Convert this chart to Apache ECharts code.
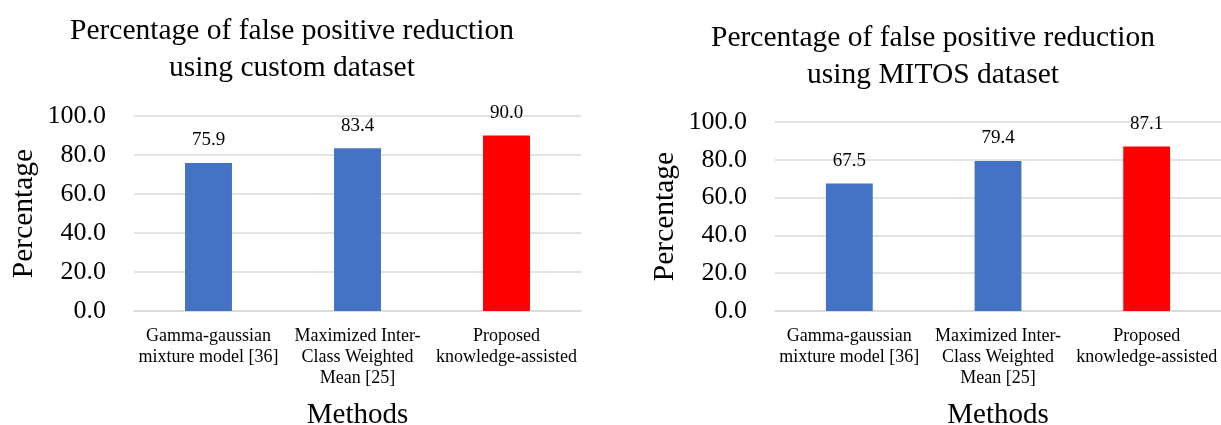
<!DOCTYPE html>
<html>
<head>
<meta charset="utf-8">
<script src="https://cdn.jsdelivr.net/npm/echarts@6/dist/echarts.min.js"></script>
<style>
html,body{margin:0;padding:0;background:#fff;}
#c{width:1221px;height:425px;}
</style>
</head>
<body>
<div id="c"></div>
<script>
var categories = ["Gamma-gaussian\nmixture model [36]", "Maximized Inter-\nClass Weighted\nMean [25]", "Proposed\nknowledge-assisted"];
var customValues = [75.9, 83.4, 90.0];
var mitosValues = [67.5, 79.4, 87.1];
var yTicks = [0, 20, 40, 60, 80, 100];
var titleCustom = "Percentage of false positive reduction\nusing custom dataset";
var titleMitos = "Percentage of false positive reduction\nusing MITOS dataset";
var xName = "Methods";
var yName = "Percentage";

var FONT = "Liberation Serif";
var BLUE = "#4472C4", RED = "#FF0000";
var barColors = [BLUE, BLUE, RED];

function mkData(vals){
  return vals.map(function(v,i){ return {value:v, itemStyle:{color:barColors[i]}}; });
}
function xAxis(gi){
  return {
    type:'category', gridIndex:gi, data:categories,
    name:xName, nameLocation:'middle', nameGap:90,
    nameTextStyle:{fontFamily:FONT, fontSize:29, color:'#000'},
    axisLine:{show:true, lineStyle:{color:'#d9d9d9', width:1.5}},
    axisTick:{show:false},
    axisLabel:{fontFamily:FONT, fontSize:18, color:'#000', lineHeight:21, margin:15, interval:0}
  };
}
function yAxis(gi){
  return {
    type:'value', gridIndex:gi, min:yTicks[0], max:yTicks[yTicks.length-1], interval:yTicks[1]-yTicks[0],
    name:yName, nameLocation:'middle', nameGap:95,
    nameTextStyle:{fontFamily:FONT, fontSize:29.5, color:'#000'},
    axisLine:{show:false}, axisTick:{show:false},
    axisLabel:{fontFamily:FONT, fontSize:26, color:'#000', margin:28, formatter:function(v){return v.toFixed(1);}},
    splitLine:{show:true, lineStyle:{color:'#d9d9d9', width:1.5}}
  };
}
function series(gi, vals){
  return {
    type:'bar', xAxisIndex:gi, yAxisIndex:gi, data:mkData(vals), barWidth:'31.5%',
    label:{show:true, position:'top', distance:13, fontFamily:FONT, fontSize:19, color:'#000',
      formatter:function(p){return p.value.toFixed(1);}},
    animation:false
  };
}

var chart = echarts.init(document.getElementById('c'), null, {renderer:'canvas'});
chart.setOption({
  animation:false,
  backgroundColor:'#fff',
  title:[
    {text:titleCustom, left:287, top:8, textAlign:'center',
     textStyle:{fontFamily:FONT, fontSize:29.5, fontWeight:'normal', color:'#000', lineHeight:37}},
    {text:titleMitos, left:928, top:15, textAlign:'center',
     textStyle:{fontFamily:FONT, fontSize:29.5, fontWeight:'normal', color:'#000', lineHeight:37}}
  ],
  grid:[
    {left:134, top:116, width:447, height:195, outerBoundsMode:'none', containLabel:false},
    {left:775, top:122, width:446, height:189, outerBoundsMode:'none', containLabel:false}
  ],
  xAxis:[xAxis(0), xAxis(1)],
  yAxis:[yAxis(0), yAxis(1)],
  series:[series(0, customValues), series(1, mitosValues)]
});
</script>
</body>
</html>
